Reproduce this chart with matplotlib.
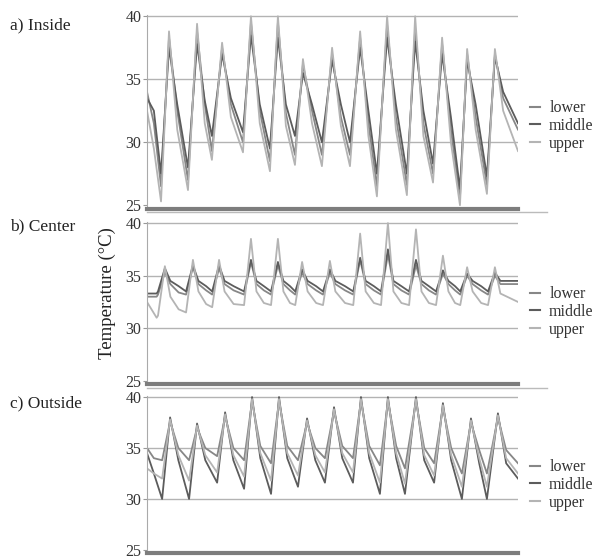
import matplotlib
matplotlib.use("Agg")
import matplotlib.pyplot as plt
from matplotlib.lines import Line2D

plt.rcParams['font.family'] = ['Liberation Serif', 'DejaVu Serif']

# time in days (peaks, troughs, mid-decay points)
days_a = [0, 0.25, 0.51, 0.80, 1.10, 1.49, 1.82, 2.10, 2.36, 2.73, 3.05, 3.49, 3.78, 4.10,
          4.47, 4.76, 5.05, 5.38, 5.67, 6.00, 6.36, 6.73, 7.05, 7.38, 7.75, 8.05, 8.36, 8.73,
          9.05, 9.45, 9.75, 10.05, 10.40, 10.73, 11.05, 11.38, 11.64, 11.95, 12.36, 12.65,
          12.95, 13.49]
inside_lower = [34, 31.5, 26.5, 38.3, 32.5, 27, 38.8, 33, 29.3, 37.5, 33, 30, 39.5, 32.5,
                28.5, 39.5, 32.3, 29, 36.2, 32.5, 29, 37, 32, 29, 38.3, 31.5, 26.5, 39.3,
                32, 26.6, 39, 31.5, 27.5, 37.8, 31, 25.6, 37, 32, 26.6, 37, 33.5, 31]
inside_middle = [33.5, 32.5, 27.5, 37.5, 33, 28, 37.8, 33.3, 30.5, 37, 33.5, 30.8, 38.5, 33,
                 29.5, 38.3, 33, 30.5, 35.5, 33, 30, 36.5, 33, 30, 37.5, 32.5, 27.5, 38.3,
                 33, 27.5, 38, 32.5, 28.3, 37, 32, 26.3, 36.5, 33, 27.3, 36.8, 34, 31.5]
inside_upper = [32.5, 29.5, 25.3, 38.8, 31, 26.2, 39.4, 31.5, 28.6, 37.9, 32, 29.2, 40, 31.5,
                27.7, 40, 31.3, 28.2, 36.6, 31.5, 28.1, 37.5, 31.3, 28.1, 38.8, 30.5, 25.7, 40,
                31, 25.8, 40, 30.5, 26.8, 38.3, 30, 25.0, 37.4, 31, 25.9, 37.4, 32.5, 29.3]

days_b = [0, 0.35, 0.40, 0.65, 0.85, 1.15, 1.42, 1.67, 1.87, 2.15, 2.37, 2.62, 2.82, 3.15,
          3.53, 3.78, 3.98, 4.25, 4.51, 4.76, 4.96, 5.20, 5.39, 5.64, 5.84, 6.15, 6.40, 6.65,
          6.85, 7.20, 7.50, 7.75, 7.95, 8.25, 8.51, 8.76, 8.96, 9.25, 9.53, 9.78, 9.98, 10.25,
          10.51, 10.76, 10.96, 11.20, 11.39, 11.64, 11.84, 12.15, 12.40, 12.65, 12.85, 13.49]
center_lower = [33.0, 33.0, 33.2, 35.3, 34.2, 33.4, 33.2, 35.8, 34.2, 33.6, 33.2, 35.7, 34.2,
                33.6, 33.2, 36.3, 34.2, 33.6, 33.2, 36.0, 34.2, 33.6, 33.2, 35.3, 34.2, 33.6,
                33.2, 35.3, 34.2, 33.6, 33.2, 36.5, 34.2, 33.6, 33.2, 37.0, 34.2, 33.6, 33.2,
                36.0, 34.2, 33.6, 33.2, 35.2, 34.2, 33.6, 33.2, 35.0, 34.2, 33.6, 33.2, 35.0,
                34.2, 34.2]
center_middle = [33.3, 33.3, 33.5, 35.7, 34.5, 34.0, 33.5, 36.0, 34.5, 34.0, 33.5, 36.0, 34.5,
                 34.0, 33.5, 36.5, 34.5, 34.0, 33.5, 36.3, 34.5, 34.0, 33.5, 35.6, 34.5, 34.0,
                 33.5, 35.6, 34.5, 34.0, 33.5, 36.7, 34.5, 34.0, 33.5, 37.5, 34.5, 34.0, 33.5,
                 36.5, 34.5, 34.0, 33.5, 35.5, 34.5, 34.0, 33.5, 35.2, 34.5, 34.0, 33.5, 35.3,
                 34.5, 34.5]
center_upper = [32.5, 31.0, 31.2, 35.9, 33.0, 31.8, 31.5, 36.5, 33.5, 32.3, 32.0, 36.5, 33.5,
                32.3, 32.2, 38.5, 33.5, 32.4, 32.2, 38.5, 33.5, 32.4, 32.2, 36.3, 33.5, 32.4,
                32.2, 36.4, 33.5, 32.4, 32.2, 39.0, 33.5, 32.4, 32.2, 40.0, 33.5, 32.4, 32.2,
                39.4, 33.5, 32.4, 32.2, 36.9, 33.5, 32.4, 32.2, 35.8, 33.5, 32.4, 32.2, 35.8,
                33.3, 32.5]

days_c = [0, 0.25, 0.55, 0.84, 1.14, 1.53, 1.82, 2.12, 2.55, 2.84, 3.14, 3.53, 3.82, 4.12,
          4.51, 4.80, 5.10, 5.49, 5.82, 6.12, 6.47, 6.80, 7.10, 7.49, 7.78, 8.08, 8.47, 8.76,
          9.06, 9.38, 9.78, 10.08, 10.44, 10.76, 11.06, 11.45, 11.78, 12.08, 12.36, 12.76,
          13.06, 13.49]
outside_lower = [35, 34, 33.8, 37.6, 35, 33.8, 37.0, 35, 34.2, 38.1, 35, 33.8, 39.6, 35.2,
                 33.5, 39.6, 35.2, 33.8, 37.5, 35, 34, 38.6, 35.2, 34, 39.6, 35.2, 33.3, 39.6,
                 35.2, 33.0, 39.6, 35, 33.5, 39.0, 35, 32.5, 37.5, 34.8, 32.5, 38.0, 34.8, 33.5]
outside_middle = [34.5, 32.5, 30.0, 38.0, 33.8, 30.0, 37.4, 33.8, 31.6, 38.5, 33.8, 31.0, 40,
                  34, 30.5, 40, 34, 31.2, 37.9, 33.8, 31.6, 39, 34, 31.6, 40, 34, 30.5, 40, 34,
                  30.5, 40, 33.8, 31.6, 39.4, 33.8, 30.0, 37.9, 33.5, 30.0, 38.4, 33.5, 32.0]
outside_upper = [33, 32.5, 32.0, 37.8, 34.3, 31.8, 37.2, 34.3, 32.6, 38.3, 34.3, 32.2, 39.8,
                 34.5, 31.8, 39.8, 34.5, 32.3, 37.7, 34.3, 32.6, 38.8, 34.5, 32.6, 39.8, 34.5,
                 31.6, 39.8, 34.5, 31.5, 39.8, 34.3, 32.3, 39.2, 34.3, 31.2, 37.7, 34, 31.2, 38.2,
                 34, 32.5]

labels = ['lower', 'middle', 'upper']
colors = ['#878787', '#5c5c5c', '#b4b4b4']
panel_names = ['a) Inside', 'b) Center', 'c) Outside']

panels = [
    (days_a, [inside_lower, inside_middle, inside_upper]),
    (days_b, [center_lower, center_middle, center_upper]),
    (days_c, [outside_lower, outside_middle, outside_upper]),
]

fig = plt.figure(figsize=(5.97, 5.59), dpi=100)

W, H = 597.0, 559.0
boxes = [(15, 209), (222, 384), (396, 553)]   # pixel top/bottom of each panel
title_y = [25, 226, 403]
legend_y = [126, 312, 485]
x0, x1 = 147, 518

for i, (days, series) in enumerate(panels):
    top, bot = boxes[i]
    ax = fig.add_axes([x0 / W, 1 - bot / H, (x1 - x0) / W, (bot - top) / H])
    for vals, c, lab in zip(series, colors, labels):
        ax.plot(days, vals, color=c, lw=1.3, label=lab)
    ax.set_xlim(0, 13.49)
    ax.set_ylim(24.7, 40.1)
    ax.set_yticks([25, 30, 35, 40])
    ax.set_xticks([])
    for y in [30, 35, 40]:
        ax.axhline(y, color='#b3b3b3', lw=1, zorder=0)
    ax.spines['top'].set_visible(False)
    ax.spines['right'].set_visible(False)
    ax.spines['left'].set_color('#aaaaaa')
    ax.spines['bottom'].set_color('#7d7d7d')
    ax.spines['bottom'].set_linewidth(3)
    ax.tick_params(axis='y', length=3, color='#999999', labelsize=11.5,
                   labelcolor='#333333', pad=1)
    fig.text(10 / W, 1 - title_y[i] / H, panel_names[i], fontsize=12.5,
             va='center', ha='left', color='#222222')
    handles = [Line2D([], [], color=c, lw=1.5) for c in colors]
    ax.legend(handles, labels, loc='center left', frameon=False,
              bbox_to_anchor=(522 / W, 1 - legend_y[i] / H),
              bbox_transform=fig.transFigure, fontsize=11.5,
              handlelength=0.6, handletextpad=0.6, labelspacing=0.1,
              borderpad=0, labelcolor='#333333')

# separators under the first two panels
for y in [212, 388]:
    fig.add_artist(Line2D([x0 / W, 547 / W], [1 - y / H, 1 - y / H],
                          color='#bbbbbb', lw=1))

fig.text(107 / W, 1 - 293 / H, 'Temperature (°C)', rotation=90, fontsize=13.5,
         va='center', ha='center', color='#222222')

plt.savefig('out.png', dpi=100)
